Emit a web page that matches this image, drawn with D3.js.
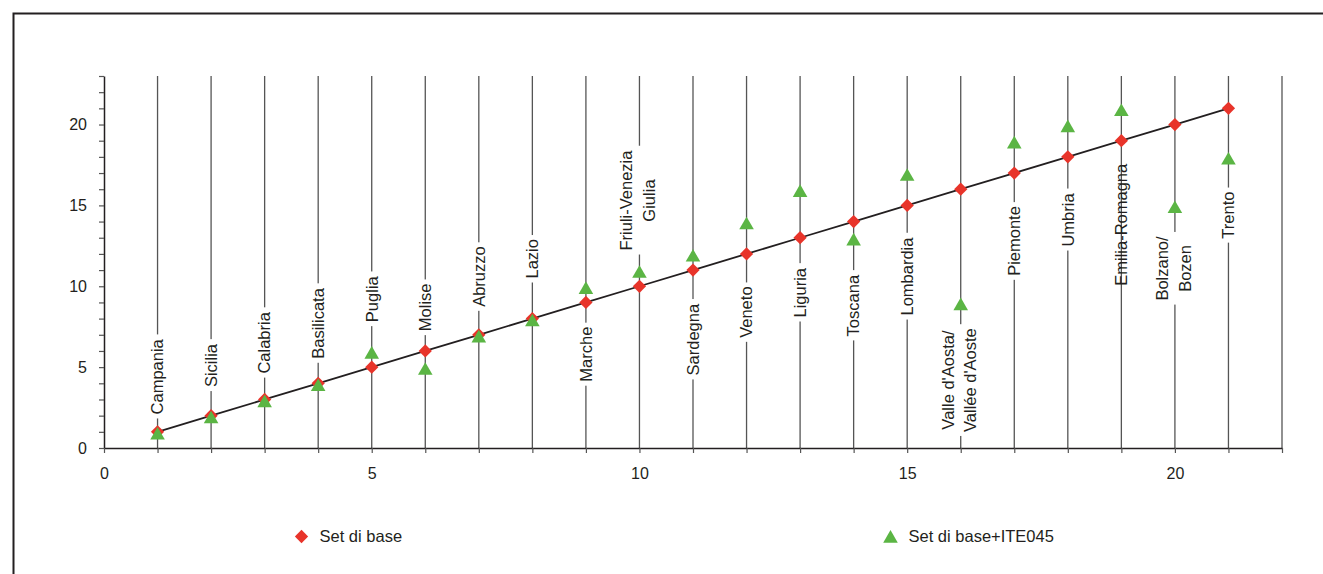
<!DOCTYPE html>
<html><head><meta charset="utf-8">
<script src="https://cdn.jsdelivr.net/npm/d3@7"></script>
<style>
html,body{margin:0;padding:0;background:#fff;}
svg{display:block;font-family:"Liberation Sans",Arial,sans-serif;}
</style></head>
<body>
<svg id="c" width="1323" height="574"></svg>
<script>
// ---- data ----
const regions = [
  ["Campania"],["Sicilia"],["Calabria"],["Basilicata"],["Puglia"],["Molise"],["Abruzzo"],["Lazio"],
  ["Marche"],["Friuli-Venezia","Giulia"],["Sardegna"],["Veneto"],["Liguria"],["Toscana"],["Lombardia"],
  ["Valle d'Aosta/","Vallée d'Aoste"],["Piemonte"],["Umbria"],["Emilia-Romagna"],["Bolzano/","Bozen"],["Trento"]
];
const xPos = d3.range(1, 22);
const setBase = [1,2,3,4,5,6,7,8,9,10,11,12,13,14,15,16,17,18,19,20,21];
const setIte045 = [1,2,3,4,6,5,7,8,10,11,12,14,16,13,17,9,19,20,21,15,18];
// label anchor (value on y axis where each region name is centred)
const labelAt = [4.4,5.1,6.5,7.7,9.2,8.7,10.6,11.7,5.8,15.3,6.7,8.4,9.6,8.8,10.6,4.2,12.8,14.1,13.8,11.1,14.4];
const noBox = ["Emilia-Romagna"];
const seriesNames = ["Set di base","Set di base+ITE045"];
const xTickLabels = [0,5,10,15,20];
const yTickLabels = [0,5,10,15,20];

// ---- chart ----
const svg = d3.select("#c");
const red = "#e8342a", green = "#5bb544", ink = "#231f20";

svg.append("rect").attr("x",13.5).attr("y",13.5).attr("width",1400).attr("height",700)
  .attr("fill","none").attr("stroke",ink).attr("stroke-width",2);

const x = d3.scaleLinear().domain([0,22]).range([104,1282]);
const y = d3.scaleLinear().domain([0,23]).range([448,76]);

// vertical drop lines
svg.append("g").selectAll("line").data(d3.range(1,23)).join("line")
  .attr("x1",d=>x(d)).attr("x2",d=>x(d)).attr("y1",y(23)).attr("y2",y(0))
  .attr("stroke","#555").attr("stroke-width",1.3);

// region labels
const lab = svg.append("g").attr("font-size",16.5).attr("fill",ink);
regions.forEach((lines,i)=>{
  const g = lab.append("g").attr("transform",`translate(${x(xPos[i])},${y(labelAt[i])}) rotate(-90)`);
  const n = lines.length;
  const bg = g.append("rect").attr("fill","#fff");
  const t = g.append("text").attr("text-anchor","middle");
  lines.forEach((s,k)=>{
    const off = n===1 ? 0 : (k===0 ? -13 : 10);
    t.append("tspan").attr("x",0).attr("y",off).attr("dy","0.35em").text(s);
  });
  if (!noBox.includes(lines[0])) {
    const b = t.node().getBBox();
    bg.attr("x",b.x-4).attr("y",b.y-1).attr("width",b.width+8).attr("height",b.height+2);
  } else bg.remove();
});

// axes
const yAxis = d3.axisLeft(y).tickValues(d3.range(0,24)).tickSize(5).tickPadding(12)
  .tickSizeOuter(0).tickFormat(d=>yTickLabels.includes(d)?d:"");
const xAxis = d3.axisBottom(x).tickValues(d3.range(0,23)).tickSize(5).tickPadding(15)
  .tickSizeOuter(0).tickFormat(d=>xTickLabels.includes(d)?d:"");
const gy = svg.append("g").attr("transform",`translate(${x(0)},0)`).call(yAxis);
const gx = svg.append("g").attr("transform",`translate(0,${y(0)})`).call(xAxis);
[gx,gy].forEach(g=>{
  g.attr("font-family",null).attr("font-size",16);
  g.selectAll("text").attr("fill",ink);
  g.selectAll("line").attr("stroke","#555").attr("stroke-width",1.2);
  g.select(".domain").attr("stroke",ink).attr("stroke-width",1.5);
});

// base line
svg.append("path").datum(xPos.map((d,i)=>[d,setBase[i]]))
  .attr("d",d3.line().x(d=>x(d[0])).y(d=>y(d[1])))
  .attr("fill","none").attr("stroke",ink).attr("stroke-width",1.8);

const diamond = d3.symbol().type(d3.symbolSquare).size(88)();
const tri = d3.symbol().type(d3.symbolTriangle).size(92)();
const triShift = 3.5;

svg.append("g").selectAll("path").data(xPos).join("path")
  .attr("d",diamond).attr("fill",red)
  .attr("transform",(d,i)=>`translate(${x(d)},${y(setBase[i])}) rotate(45)`);
svg.append("g").selectAll("path").data(xPos).join("path")
  .attr("d",tri).attr("fill",green)
  .attr("transform",(d,i)=>`translate(${x(d)},${y(setIte045[i])+triShift})`);

// legend
const leg = svg.append("g").attr("font-size",16.5).attr("fill",ink);
const legX = [301.5, 890.5];
leg.append("path").attr("d",diamond).attr("fill",red).attr("transform",`translate(${legX[0]},536.5) rotate(45)`);
leg.append("path").attr("d",tri).attr("fill",green).attr("transform",`translate(${legX[1]},${536.5+2})`);
seriesNames.forEach((s,i)=>{
  leg.append("text").attr("x",legX[i]+18).attr("y",536.5).attr("dy","0.35em").text(s);
});
</script>
</body></html>
